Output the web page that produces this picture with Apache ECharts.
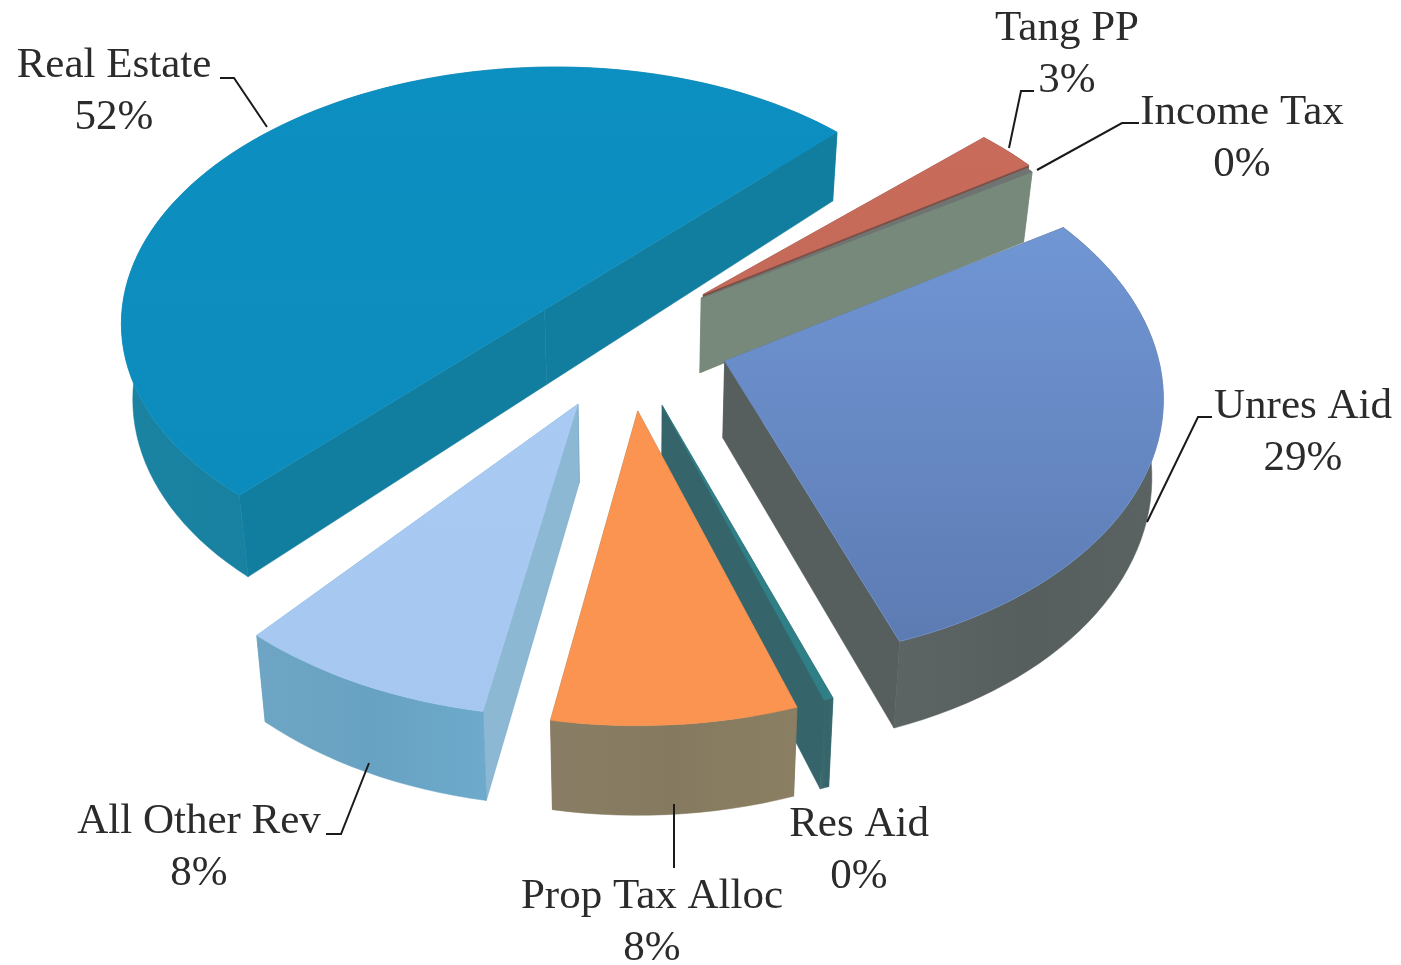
<!DOCTYPE html>
<html>
<head>
<meta charset="utf-8">
<script src="https://cdn.jsdelivr.net/npm/echarts@6/dist/echarts.min.js"></script>
<style>
  html, body { margin: 0; background: #fff; }
  #chart { width: 1401px; height: 965px; }
</style>
</head>
<body>
<div id="chart"></div>
<script>
// clockwise from the first slice
var categories = ['Tang PP', 'Income Tax', 'Unres Aid', 'Res Aid', 'Prop Tax Alloc', 'All Other Rev', 'Real Estate']
var percents = [2.6, 0.3, 28.6, 0.3, 7.9, 8.4, 51.9]

// look of each slice, same order as categories
var topColors = [
  ['#c96b5a', '#c46a58'], ['#6f7472', '#6f7472'], ['#7096d4', '#5d7bb3'], ['#2f7f86', '#2f7f86'],
  ['#fb9450', '#fb9450'], ['#a8caf3', '#a6c8f0'], ['#0c8fc1', '#0c8cbc']
]
var wallColors = ['#7a4f48', '#76897a', '#565f5e', '#35656a', '#85795f', '#68a2c2', '#127e9f']
var endWallColors = ['#7a4f48', '#76897a', '#565f5e', '#35656a', '#85795f', '#8db8d4', '#127e9f']
var explode = [[0.15, -0.275], [0.145, -0.26], [0.195, -0.015], [0.05, 0.15], [-0.005, 0.17], [-0.14, 0.145], [-0.225, -0.3]]
// the big slice's point sits on the straight line between its two corners
var apexShift = [[0, 0], [0, 0], [0, 0], [0, 0], [0, 0], [0, 0], [0, 0.085]]
var drawOrder = [6, 0, 1, 2, 3, 4, 5]

var labelAt = [[1067, 55], [1242, 139], [1303, 433], [859, 851], [652, 923], [199, 848], [114, 92]]
var leaders = [
  [[1034, 91], [1021, 91], [1009, 148]],
  [[1139, 123], [1122, 123], [1037, 170]],
  [[1212, 417], [1198, 417], [1147, 522]],
  null,
  [[674, 804], [674, 868]],
  [[326, 834], [341, 834], [369, 763]],
  [[220, 78], [234, 78], [267, 127]]
]

var startAngle = 47
var center = [640, 365]
var radius = [435, 265]
var persp = 0.12
var depth = 77
var converge = 0.022

var total = percents.reduce(function (a, b) { return a + b }, 0)

function project(u, v, z) {
  var s = 1 / (1 - persp * v)
  return [
    center[0] + radius[0] * u * s * (1 - converge * z),
    center[1] + radius[1] * v * s + z * depth * s
  ]
}

function sliceRange(i) {
  var before = 0
  for (var k = 0; k < i; k++) before += percents[k]
  return [startAngle + before / total * 360, startAngle + (before + percents[i]) / total * 360]
}

function rimPoints(i, z) {
  var r = sliceRange(i)
  var off = explode[i]
  var pts = []
  var steps = Math.max(2, Math.ceil((r[1] - r[0]) / 2))
  for (var k = 0; k <= steps; k++) {
    var a = (r[0] + (r[1] - r[0]) * k / steps) * Math.PI / 180
    pts.push(project(off[0] + Math.sin(a), off[1] - Math.cos(a), z))
  }
  return pts
}

function wallGradient(c) {
  return {
    type: 'linear', x: 0, y: 0, x2: 1, y2: 0,
    colorStops: [
      { offset: 0, color: echarts.color.lift(c, 0.04) },
      { offset: 0.5, color: c },
      { offset: 1, color: echarts.color.lift(c, -0.05) }
    ]
  }
}

function renderSlice(params, api) {
  var i = api.value(0)
  var off = explode[i]
  var shift = apexShift[i]
  var top = rimPoints(i, 0)
  var bottom = rimPoints(i, 1)
  var apexTop = project(off[0] + shift[0], off[1] + shift[1], 0)
  var apexBottom = project(off[0] + shift[0], off[1] + shift[1], 1)

  var walls = [
    { points: [apexTop, top[0], bottom[0], apexBottom], fill: endWallColors[i] },
    { points: [apexTop, top[top.length - 1], bottom[bottom.length - 1], apexBottom], fill: endWallColors[i] },
    { points: top.concat(bottom.slice().reverse()), fill: wallGradient(wallColors[i]) }
  ]
  walls.forEach(function (w) {
    w.y = w.points.reduce(function (s, p) { return s + p[1] }, 0) / w.points.length
  })
  walls.sort(function (a, b) { return a.y - b.y })

  var children = walls.map(function (w) {
    return {
      type: 'polygon',
      shape: { points: w.points },
      style: { fill: w.fill, stroke: wallColors[i], lineWidth: 0.5 }
    }
  })
  children.push({
    type: 'polygon',
    shape: { points: [apexTop].concat(top) },
    style: {
      fill: {
        type: 'linear', x: 0, y: 0, x2: 0, y2: 1,
        colorStops: [{ offset: 0, color: topColors[i][0] }, { offset: 1, color: topColors[i][1] }]
      },
      stroke: topColors[i][0],
      lineWidth: 0.5
    }
  })

  if (leaders[i]) {
    children.push({
      type: 'polyline',
      shape: { points: leaders[i] },
      style: { fill: null, stroke: '#1a1a1a', lineWidth: 2 }
    })
  }
  children.push({
    type: 'text',
    style: {
      text: categories[i] + '\n' + Math.round(percents[i] / total * 100) + '%',
      x: labelAt[i][0],
      y: labelAt[i][1],
      align: 'center',
      verticalAlign: 'middle',
      fill: '#2b2b2b',
      fontFamily: '"Liberation Serif", serif',
      fontSize: 43,
      lineHeight: 52
    }
  })
  return { type: 'group', children: children }
}

var chart = echarts.init(document.getElementById('chart'))
chart.setOption({
  animation: false,
  backgroundColor: '#fff',
  series: [{
    type: 'custom',
    coordinateSystem: 'none',
    silent: true,
    renderItem: renderSlice,
    data: drawOrder.map(function (i) { return [i, percents[i]] })
  }]
})
</script>
</body>
</html>
